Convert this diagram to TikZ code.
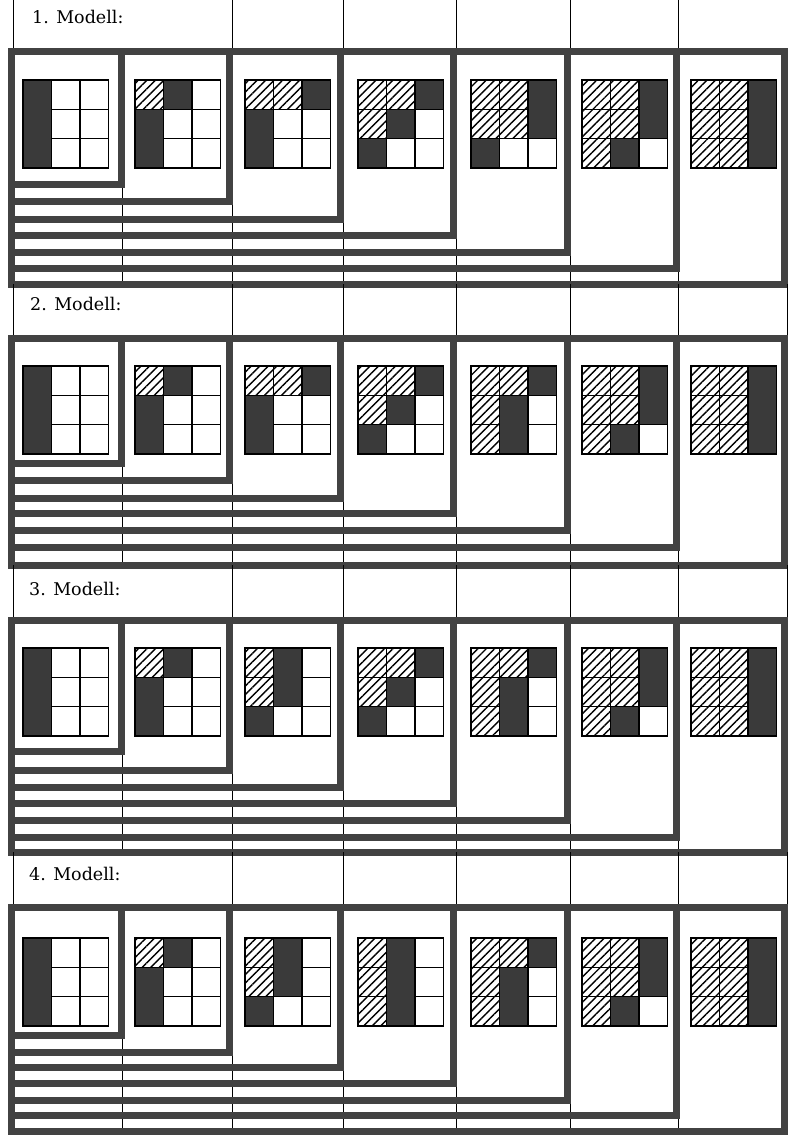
\documentclass[tikz,border=0pt]{standalone}
\usepackage{fontspec}
\setmainfont{DejaVu Serif}
\usetikzlibrary{patterns.meta}

\definecolor{framegray}{RGB}{66,66,66}
\definecolor{cellblack}{RGB}{58,58,58}

\tikzset{
  boxframe/.style={draw=framegray,line width=7pt,line join=miter},
  tablerule/.style={draw=black,line width=0.8pt},
  gridcell/.style={draw=black,line width=1.4pt},
  hatchcell/.style={gridcell,pattern={Lines[angle=45,distance=6pt,line width=1.4pt]}},
  modelname/.style={anchor=base west,inner sep=0pt,font=\fontsize{17.5}{20}\selectfont}
}

\newcommand{\cellw}{28.5}
\newcommand{\cellh}{29.3}

% 3x3 tile: left, top, codes row by row (0 white, 1 hatched, 2 black)
\newcommand{\modeltile}[3]{%
  \foreach \code [count=\i from 0] in {#3}{%
    \pgfmathtruncatemacro{\cx}{mod(\i,3)}%
    \pgfmathtruncatemacro{\cy}{\i/3}%
    \ifnum\code=2 \fill[cellblack] ({#1+\cx*\cellw},{#2+\cy*\cellh}) rectangle ++(\cellw,\cellh);\fi
  }%
  \foreach \code [count=\i from 0] in {#3}{%
    \pgfmathtruncatemacro{\cx}{mod(\i,3)}%
    \pgfmathtruncatemacro{\cy}{\i/3}%
    \ifnum\code=1 \path[hatchcell] ({#1+\cx*\cellw},{#2+\cy*\cellh}) rectangle ++(\cellw,\cellh);\fi
    \ifnum\code=0 \draw[gridcell] ({#1+\cx*\cellw},{#2+\cy*\cellh}) rectangle ++(\cellw,\cellh);\fi
  }%
  \draw[gridcell] (#1,#2) rectangle ++({3*\cellw},{3*\cellh});
}

\begin{document}
\begin{tikzpicture}[x=1pt,y=-1pt]
  \useasboundingbox (0,0) rectangle (788,1135);

  % 1. Modell
  \foreach \x in {13,232,343,456,570,678} \draw[tablerule] (\x,0) -- (\x,51);
  \node[modelname] (name1) at (32,23.5) {1. Modell:};
  \foreach \x in {122,232,343,456,570,678} \draw[tablerule] (\x,51) -- (\x,284);
  \foreach \r/\b in {121/184,229/201,340/219,453/235,567/252,676/268,784/284}
    \draw[boxframe] (11,51) rectangle (\r,\b);
  \modeltile{23}{80}{2,0,0,2,0,0,2,0,0}
  \modeltile{135}{80}{1,2,0,2,0,0,2,0,0}
  \modeltile{245}{80}{1,1,2,2,0,0,2,0,0}
  \modeltile{358}{80}{1,1,2,1,2,0,2,0,0}
  \modeltile{471}{80}{1,1,2,1,1,2,2,0,0}
  \modeltile{582}{80}{1,1,2,1,1,2,1,2,0}
  \modeltile{691}{80}{1,1,2,1,1,2,1,1,2}

  % 2. Modell
  \foreach \x in {13,232,343,456,570,678,787} \draw[tablerule] (\x,284) -- (\x,338);
  \node[modelname] (name2) at (30,310) {2. Modell:};
  \foreach \x in {122,232,343,456,570,678} \draw[tablerule] (\x,338) -- (\x,565);
  \foreach \r/\b in {121/463,229/480,340/498,453/513,567/530,676/547,784/565}
    \draw[boxframe] (11,338) rectangle (\r,\b);
  \modeltile{23}{366}{2,0,0,2,0,0,2,0,0}
  \modeltile{135}{366}{1,2,0,2,0,0,2,0,0}
  \modeltile{245}{366}{1,1,2,2,0,0,2,0,0}
  \modeltile{358}{366}{1,1,2,1,2,0,2,0,0}
  \modeltile{471}{366}{1,1,2,1,2,0,1,2,0}
  \modeltile{582}{366}{1,1,2,1,1,2,1,2,0}
  \modeltile{691}{366}{1,1,2,1,1,2,1,1,2}

  % 3. Modell
  \foreach \x in {13,232,343,456,570,678,787} \draw[tablerule] (\x,565) -- (\x,620);
  \node[modelname] (name3) at (29,595) {3. Modell:};
  \foreach \x in {122,232,343,456,570,678} \draw[tablerule] (\x,620) -- (\x,852);
  \foreach \r/\b in {121/751,229/770,340/787,453/803,567/820,676/837,784/852}
    \draw[boxframe] (11,620) rectangle (\r,\b);
  \modeltile{23}{648}{2,0,0,2,0,0,2,0,0}
  \modeltile{135}{648}{1,2,0,2,0,0,2,0,0}
  \modeltile{245}{648}{1,2,0,1,2,0,2,0,0}
  \modeltile{358}{648}{1,1,2,1,2,0,2,0,0}
  \modeltile{471}{648}{1,1,2,1,2,0,1,2,0}
  \modeltile{582}{648}{1,1,2,1,1,2,1,2,0}
  \modeltile{691}{648}{1,1,2,1,1,2,1,1,2}

  % 4. Modell
  \foreach \x in {13,232,343,456,570,678,787} \draw[tablerule] (\x,852) -- (\x,907);
  \node[modelname] (name4) at (29,880) {4. Modell:};
  \foreach \x in {122,232,343,456,570,678} \draw[tablerule] (\x,907) -- (\x,1131);
  \foreach \r/\b in {121/1035,229/1052,340/1067,453/1083,567/1100,676/1115,784/1131}
    \draw[boxframe] (11,907) rectangle (\r,\b);
  \modeltile{23}{938}{2,0,0,2,0,0,2,0,0}
  \modeltile{135}{938}{1,2,0,2,0,0,2,0,0}
  \modeltile{245}{938}{1,2,0,1,2,0,2,0,0}
  \modeltile{358}{938}{1,2,0,1,2,0,1,2,0}
  \modeltile{471}{938}{1,1,2,1,2,0,1,2,0}
  \modeltile{582}{938}{1,1,2,1,1,2,1,2,0}
  \modeltile{691}{938}{1,1,2,1,1,2,1,1,2}
\end{tikzpicture}
\end{document}
